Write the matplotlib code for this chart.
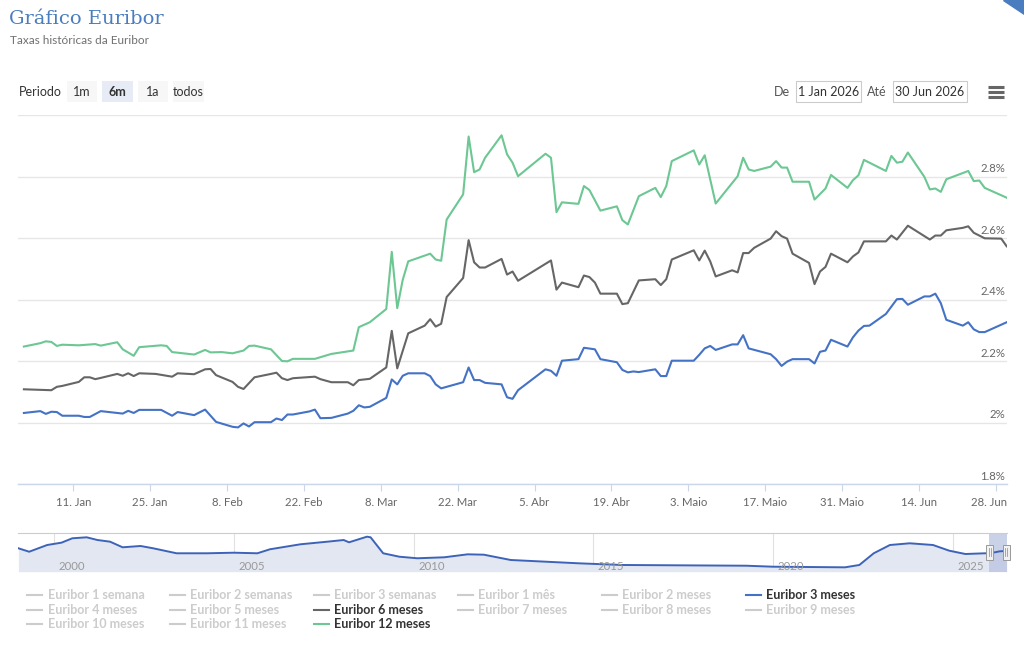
import numpy as np
import matplotlib
matplotlib.use("Agg")
import matplotlib.pyplot as plt
from matplotlib.patches import Rectangle, Polygon
from matplotlib.lines import Line2D
from matplotlib import transforms

plt.rcParams["font.family"] = ["Lato", "DejaVu Sans"]

W, H = 1024, 653

# ── dados (dias desde 1 Jan 2026, taxa em %) ──────────────────────────────
dias_3m = [1, 4, 5, 6, 7, 8, 11, 12, 13, 15, 19, 20, 21, 22, 26, 28, 29, 32, 34, 36,
           39, 40, 41, 42, 43, 46, 47, 48, 49, 50, 53, 54, 55, 57, 60, 61, 62, 63, 64, 67,
           68, 69, 70, 71, 74, 75, 76, 77, 81, 82, 83, 84, 85, 88, 89, 90, 91, 96, 97, 98,
           99, 102, 103, 105, 106, 109, 110, 111, 112, 113, 116, 117, 118, 119, 123, 124,
           125, 126, 127, 130, 131, 132, 133, 137, 138, 139, 140, 141, 144, 145, 146, 147,
           148, 151, 152, 153, 154, 155, 158, 159, 160, 161, 162, 165, 166, 167, 168, 169,
           172, 173, 174, 175, 176, 180]
taxa_3m = [2.031, 2.037, 2.028, 2.035, 2.034, 2.022, 2.022, 2.018, 2.018, 2.037, 2.029,
           2.038, 2.031, 2.041, 2.041, 2.022, 2.034, 2.024, 2.042, 2.002, 1.986, 1.984,
           1.997, 1.987, 2.001, 2.001, 2.013, 2.008, 2.026, 2.026, 2.036, 2.042, 2.014,
           2.015, 2.029, 2.038, 2.056, 2.049, 2.051, 2.080, 2.140, 2.124, 2.152, 2.160,
           2.160, 2.151, 2.124, 2.111, 2.131, 2.179, 2.138, 2.138, 2.129, 2.124, 2.082,
           2.077, 2.105, 2.173, 2.168, 2.152, 2.201, 2.206, 2.243, 2.238, 2.206, 2.196,
           2.171, 2.163, 2.166, 2.164, 2.173, 2.151, 2.151, 2.201, 2.201, 2.220, 2.241,
           2.249, 2.236, 2.254, 2.254, 2.284, 2.241, 2.222, 2.206, 2.184, 2.198, 2.206,
           2.206, 2.192, 2.230, 2.234, 2.269, 2.247, 2.277, 2.299, 2.314, 2.315, 2.353,
           2.377, 2.401, 2.402, 2.383, 2.410, 2.410, 2.419, 2.388, 2.334, 2.315, 2.326,
           2.303, 2.294, 2.294, 2.326]

dias_6m = [1, 6, 7, 8, 11, 12, 13, 14, 15, 18, 19, 20, 21, 22, 25, 28, 29, 32, 34, 35,
           36, 39, 40, 41, 43, 46, 47, 48, 49, 50, 54, 55, 57, 60, 61, 62, 64, 67, 68, 69,
           71, 74, 75, 76, 77, 78, 81, 82, 83, 84, 85, 88, 89, 90, 91, 97, 98, 99, 102, 103,
           104, 105, 106, 109, 110, 111, 113, 116, 117, 118, 119, 123, 124, 125, 126, 127,
           130, 131, 132, 133, 134, 137, 138, 139, 140, 141, 144, 145, 146, 147, 148, 151,
           152, 153, 154, 158, 159, 160, 162, 166, 167, 168, 169, 172, 173, 174, 176, 179, 180]
taxa_6m = [2.108, 2.105, 2.116, 2.119, 2.132, 2.147, 2.147, 2.141, 2.145, 2.158, 2.152,
           2.160, 2.151, 2.160, 2.158, 2.149, 2.160, 2.157, 2.173, 2.174, 2.154, 2.132,
           2.116, 2.109, 2.147, 2.158, 2.162, 2.144, 2.138, 2.144, 2.149, 2.141, 2.131,
           2.131, 2.121, 2.138, 2.142, 2.179, 2.298, 2.176, 2.290, 2.315, 2.336, 2.312,
           2.321, 2.408, 2.470, 2.593, 2.521, 2.504, 2.504, 2.532, 2.481, 2.491, 2.461,
           2.527, 2.432, 2.455, 2.440, 2.478, 2.473, 2.455, 2.419, 2.419, 2.385, 2.388,
           2.462, 2.466, 2.447, 2.466, 2.530, 2.560, 2.527, 2.559, 2.524, 2.475, 2.495,
           2.488, 2.551, 2.551, 2.568, 2.598, 2.622, 2.606, 2.598, 2.549, 2.519, 2.450,
           2.491, 2.506, 2.549, 2.521, 2.540, 2.553, 2.589, 2.589, 2.608, 2.595, 2.640,
           2.595, 2.608, 2.608, 2.625, 2.633, 2.638, 2.617, 2.599, 2.598, 2.573]

dias_12m = [1, 4, 5, 6, 7, 8, 11, 14, 15, 18, 19, 21, 22, 26, 27, 28, 32, 34, 35, 37, 39,
            41, 42, 43, 46, 48, 49, 50, 54, 57, 61, 62, 64, 67, 68, 69, 70, 71, 75, 76, 77,
            78, 81, 82, 83, 84, 85, 88, 89, 90, 91, 96, 97, 98, 99, 102, 103, 104, 106, 109,
            110, 111, 113, 116, 117, 118, 119, 123, 124, 125, 127, 131, 132, 133, 134, 137,
            138, 139, 140, 141, 144, 145, 147, 148, 151, 152, 153, 154, 158, 159, 160, 161,
            162, 165, 166, 167, 168, 169, 173, 174, 175, 176, 180]
taxa_12m = [2.247, 2.258, 2.264, 2.262, 2.249, 2.253, 2.251, 2.255, 2.250, 2.261, 2.238,
            2.217, 2.245, 2.251, 2.249, 2.229, 2.221, 2.236, 2.228, 2.229, 2.225, 2.234,
            2.249, 2.250, 2.238, 2.200, 2.199, 2.207, 2.207, 2.223, 2.234, 2.310, 2.326,
            2.369, 2.555, 2.372, 2.464, 2.524, 2.549, 2.530, 2.526, 2.660, 2.742, 2.930,
            2.814, 2.823, 2.861, 2.934, 2.872, 2.845, 2.801, 2.874, 2.861, 2.684, 2.716,
            2.711, 2.769, 2.756, 2.689, 2.703, 2.658, 2.644, 2.736, 2.763, 2.733, 2.769,
            2.850, 2.885, 2.839, 2.869, 2.712, 2.801, 2.861, 2.823, 2.818, 2.832, 2.850,
            2.829, 2.829, 2.783, 2.783, 2.725, 2.761, 2.805, 2.763, 2.788, 2.804, 2.854,
            2.818, 2.867, 2.845, 2.848, 2.878, 2.799, 2.758, 2.761, 2.750, 2.791, 2.818,
            2.785, 2.787, 2.763, 2.731]

# navegador: histórico (ano decimal, taxa %)
nav_anos = [1999.0, 1999.3, 1999.8, 2000.2, 2000.5, 2000.9, 2001.2, 2001.55, 2001.9,
            2002.4, 2002.75, 2003.4, 2004.25, 2005.0, 2005.65, 2006.0, 2006.85, 2007.6,
            2008.05, 2008.2, 2008.7, 2008.8, 2009.15, 2009.6, 2010.1, 2010.85, 2011.5,
            2011.95, 2012.7, 2014.6, 2015.8, 2019.25, 2020.0, 2022.0, 2022.4, 2022.8,
            2023.25, 2023.8, 2024.45, 2024.9, 2025.35, 2025.9, 2026.0, 2026.3, 2026.5]
nav_taxa = [3.04, 2.38, 3.67, 4.12, 4.96, 5.15, 4.63, 4.31, 3.23, 3.48, 3.04, 2.08, 2.08,
            2.19, 2.08, 2.85, 3.81, 4.31, 4.63, 4.19, 5.27, 5.15, 2.08, 1.42, 1.12, 1.31,
            1.88, 1.81, 0.79, 0.15, -0.17, -0.31, -0.50, -0.62, -0.17, 2.08, 3.67, 4.00,
            3.67, 2.58, 1.94, 2.08, 2.03, 2.45, 2.55]

y_ticks = [1.8, 2.0, 2.2, 2.4, 2.6, 2.8, 3.0]
meses = {1: "Jan", 2: "Feb", 3: "Mar", 4: "Abr", 5: "Maio", 6: "Jun"}
nav_ticks = [2000, 2005, 2010, 2015, 2020, 2025]

legenda = ["Euribor 1 semana", "Euribor 2 semanas", "Euribor 3 semanas", "Euribor 1 mês",
           "Euribor 2 meses", "Euribor 3 meses", "Euribor 4 meses", "Euribor 5 meses",
           "Euribor 6 meses", "Euribor 7 meses", "Euribor 8 meses", "Euribor 9 meses",
           "Euribor 10 meses", "Euribor 11 meses", "Euribor 12 meses"]

C_3M, C_6M, C_12M = "#4472c4", "#666666", "#6cc793"
ativos = {"Euribor 3 meses": C_3M, "Euribor 6 meses": C_6M, "Euribor 12 meses": C_12M}

base = np.datetime64("2026-01-01")


def datas(dias):
    return base + np.array(dias, dtype="timedelta64[D]")


def fx(x):
    return x / W


def fy(y):
    return 1 - y / H


fig = plt.figure(figsize=(W / 100, H / 100), dpi=100)
fig.patch.set_facecolor("white")


def caixa(x0, y0, x1, y1, **kw):
    fig.add_artist(Rectangle((fx(x0), fy(y1)), (x1 - x0) / W, (y1 - y0) / H,
                             transform=fig.transFigure, **kw))


# ── cabeçalho ─────────────────────────────────────────────────────────────
fig.text(fx(9), fy(24), "Gráfico Euribor", family="DejaVu Serif", size=14,
         color="#4a7dbf", va="baseline")
fig.text(fx(10), fy(44), "Taxas históricas da Euribor", size=8.5, color="#707070",
         va="baseline")
fig.add_artist(Polygon([(fx(1003), fy(0)), (fx(1024), fy(0)), (fx(1024), fy(14))],
                       closed=True, transform=fig.transFigure, color="#4a7dbf"))

# seletor de período
fig.text(fx(19), fy(92), "Periodo", size=9, color="#333333", va="center")
for lab, x0, x1, sel in [("1m", 67, 97, False), ("6m", 102, 133, True),
                         ("1a", 138, 168, False), ("todos", 173, 204, False)]:
    caixa(x0, 81, x1, 102, facecolor="#e6ebf5" if sel else "#f7f7f7", edgecolor="none")
    fig.text(fx((x0 + x1) / 2), fy(92), lab, size=9, color="#333333", ha="center",
             va="center", weight="bold" if sel else "normal")

fig.text(fx(782), fy(92), "De", size=9, color="#555555", ha="center", va="center")
caixa(796, 81, 861, 102, facecolor="white", edgecolor="#cccccc", lw=0.8)
fig.text(fx(828.5), fy(92), "1 Jan 2026", size=9, color="#333333", ha="center", va="center")
fig.text(fx(877), fy(92), "Até", size=9, color="#555555", ha="center", va="center")
caixa(893, 81, 967, 102, facecolor="white", edgecolor="#cccccc", lw=0.8)
fig.text(fx(930), fy(92), "30 Jun 2026", size=9, color="#333333", ha="center", va="center")
for yy in (86.5, 91.5, 96.5):
    fig.add_artist(Line2D([fx(988), fx(1004)], [fy(yy), fy(yy)], transform=fig.transFigure,
                          color="#666666", lw=2.2, solid_capstyle="butt"))

# ── gráfico principal ─────────────────────────────────────────────────────
ax = fig.add_axes([fx(18.4), fy(484), (1006.7 - 18.4) / W, (484 - 115) / H])
ax.plot(datas(dias_12m), taxa_12m, color=C_12M, lw=1.5, zorder=3)
ax.plot(datas(dias_6m), taxa_6m, color=C_6M, lw=1.5, zorder=3)
ax.plot(datas(dias_3m), taxa_3m, color=C_3M, lw=1.5, zorder=3)

ax.set_xlim(base, base + np.timedelta64(180, "D"))
ax.set_ylim(1.8, 3.0)
ax.set_yticks(y_ticks)
ax.yaxis.grid(True, color="#e6e6e6", lw=1)
ax.tick_params(axis="y", length=0, labelleft=False)
for s in ("top", "left", "right"):
    ax.spines[s].set_visible(False)
ax.spines["bottom"].set_color("#ccd6eb")
ax.spines["bottom"].set_linewidth(1)

up = transforms.offset_copy(ax.get_yaxis_transform(), fig=fig, x=-1, y=1.5, units="points")
for v in y_ticks[:-1]:
    ax.text(1.0, v, f"{v:g}%", transform=up, ha="right", va="bottom", size=8.2,
            color="#666666")

x_ticks = base + np.arange(10, 181, 14).astype("timedelta64[D]")
ax.set_xticks(x_ticks)
ax.set_xticklabels([f"{d.astype(object).day}. {meses[d.astype(object).month]}"
                    for d in x_ticks])
ax.tick_params(axis="x", length=5, width=0.8, color="#ccd6eb", labelcolor="#666666",
               labelsize=8.2, pad=4)
# último rótulo encostado à margem direita, como no original
ultimo = ax.get_xticklabels()[-1]
ultimo.set_horizontalalignment("right")
ultimo.set_transform(ultimo.get_transform()
                     + transforms.ScaledTranslation(11 / 100, 0, fig.dpi_scale_trans))

# ── navegador ─────────────────────────────────────────────────────────────
nav = fig.add_axes([fx(18.4), fy(571.7), (1006.7 - 18.4) / W, (571.7 - 533.3) / H])
nav.set_xlim(1999.0, 2026.5)
nav.set_ylim(-1.46, 5.92)
nav.fill_between(nav_anos, nav_taxa, -1.46, color="#e3e7f1", lw=0)
nav.plot(nav_anos, nav_taxa, color="#3d63b8", lw=1.4)
for t in nav_ticks:
    nav.axvline(t, color="#e0e0e0", lw=0.8, zorder=0)
    nav.text(t + 0.12, -0.4, str(t), size=8.2, color="#999999", va="center")
nav.set_xticks([])
nav.set_yticks([])
for s in ("left", "right", "bottom"):
    nav.spines[s].set_visible(False)
nav.spines["top"].set_color("#cccccc")
nav.axvspan(2026.0, 2026.5, color="#b9c4e0", alpha=0.75, lw=0)
for hx in (989.5, 1006.2):
    caixa(hx - 3.5, 544.5, hx + 3.5, 559.5, facecolor="#f2f2f2", edgecolor="#999999", lw=0.7)
    for dx in (-1, 1):
        fig.add_artist(Line2D([fx(hx + dx)] * 2, [fy(548), fy(556)], transform=fig.transFigure,
                              color="#999999", lw=0.6))

# ── legenda ───────────────────────────────────────────────────────────────
col_x = [27, 170, 314, 458, 602, 746]
row_y = [595, 609.5, 624]
for i, nome in enumerate(legenda):
    x0 = col_x[i % 6]
    y0 = row_y[i // 6]
    cor = ativos.get(nome, "#cccccc")
    fig.add_artist(Line2D([fx(x0), fx(x0 + 15)], [fy(y0), fy(y0)], transform=fig.transFigure,
                          color=cor, lw=1.5))
    fig.text(fx(x0 + 20.5), fy(y0), nome, size=9, weight="bold", va="center",
             color="#333333" if nome in ativos else "#cccccc")

fig.savefig("out.png", dpi=100, facecolor="white")
